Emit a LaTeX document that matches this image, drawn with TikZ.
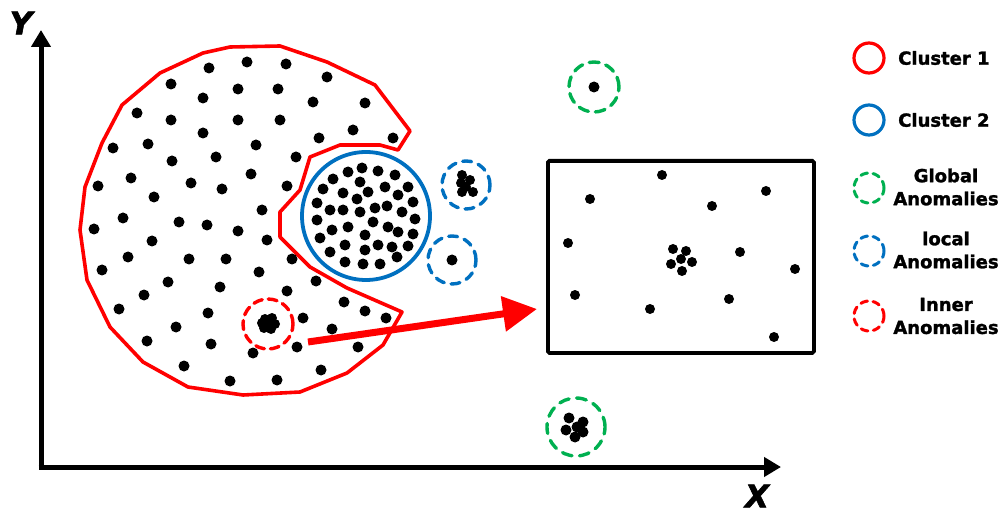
\documentclass[tikz,border=0pt]{standalone}
\usepackage{fontspec}
\setmainfont{DejaVu Sans}
\newfontfamily\heavyfont[FakeBold=1.6]{DejaVu Sans Bold}
\newfontfamily\heavyital[FakeBold=2]{DejaVu Sans Bold Oblique}
\usetikzlibrary{arrows.meta}
\definecolor{cred}{RGB}{255,0,0}
\definecolor{cblue}{RGB}{0,112,192}
\definecolor{cgreen}{RGB}{0,176,80}
\tikzset{
  dotfill/.style={fill=black},
  bigdash/.style={line width=3.4pt,dash pattern=on 11pt off 7pt,line cap=round},
  smalldash/.style={line width=3pt,dash pattern=on 7pt off 5.5pt,line cap=round},
  legtext/.style={inner sep=0pt,font=\fontsize{18}{23}\selectfont\heavyfont,align=center},
  axislabel/.style={inner sep=0pt,font=\fontsize{31}{31}\selectfont\heavyital},
  axis/.style={line width=5pt,-{Triangle[length=17pt,width=19pt]}},
}
\begin{document}
\begin{tikzpicture}[x=1pt,y=-1pt]
\useasboundingbox (0,0) rectangle (1007,513);
% axes
\coordinate (origin) at (41,467);
\coordinate (ytip) at (41,30);
\coordinate (xtip) at (781,467);
\draw[axis] ([yshift=2.5pt]origin) -- (ytip);
\draw[axis] ([xshift=-2.5pt]origin) -- (xtip);
\node[axislabel] (ylab) at (21,23) {Y};
\node[axislabel] (xlab) at (757,496) {X};
% cluster 1 outline
\draw[cred,line width=3.6pt,line join=round]
 (280,46) -- (230,47) -- (203,53) -- (160,73) -- (122,105) -- (102,143) -- (85,187)
 -- (80,230) -- (87,280) -- (110,327) -- (143,362) -- (188,387) -- (243,395)
 -- (300,392) -- (347,373) -- (383,345) -- (402,312) -- (347,288) -- (310,267)
 -- (280,237) -- (280,212) -- (300,190) -- (310,157) -- (340,145) -- (380,145)
 -- (398,150) -- (410,131) -- (375,85) -- (327,62) -- cycle;
% cluster 1 dots
\foreach \p in {(209,68),(247,62),(286,64),(327,77),(171,84),(238,89),(278,89),(203,98),
 (313,102),(365,103),(137,113),(171,120),(238,120),(280,120),(353,130),(203,133),(319,138),
 (393,138),(113,148),(148,144),(256,145),(172,161),(216,157),(296,157),(251,174),(131,178),
 (98,186),(191,183),(222,189),(287,186),(154,197),(262,210),(123,218),(179,222),(207,225),
 (94,229),(238,231),(152,241),(267,240),(128,257),(189,259),(226,259),(292,259),(102,270),
 (259,272),(168,282),(220,287),(316,281),(144,295),(287,291),(344,302),(119,309),(208,313),
 (365,311),(303,318),(386,318),(176,327),(332,329),(147,341),(211,344),(253,353),(297,347),
 (358,347),(184,366),(321,370),(230,381),(277,380)}
 \fill[dotfill] \p circle[radius=5.5];
% inner anomaly
\node[draw=cred,line width=3.4pt,line cap=round,dash pattern=on 9pt off 6pt,circle,minimum size=50pt,inner sep=0pt] (inner) at (268,324) {};
\foreach \p in {(265,319),(272,318),(275,324),(271,329),(264,328),(262,323),(269,323)}
 \fill[dotfill] \p circle[radius=5];
% cluster 2
\node[draw=cblue,line width=3.8pt,circle,minimum size=128pt,inner sep=0pt] (c2) at (366,216) {};
\foreach \p in {(348,172),(362,168),(378,171),(395,175),(333,179),(360,182),(323,189),(368,192),
 (385,187),(408,187),(343,193),(398,195),(357,199),(317,203),(413,202),(387,206),(330,210),
 (343,210),(360,212),(375,208),(402,212),(317,220),(415,219),(373,222),(348,227),(332,230),
 (388,227),(398,232),(365,235),(413,234),(320,238),(345,245),(378,245),(392,247),(408,246),
 (330,252),(365,250),(397,257),(345,262),(363,264),(380,264)}
 \fill[dotfill] \p circle[radius=5.5];
% local anomalies
\node[draw=cblue,bigdash,dash pattern=on 9pt off 7pt,circle,minimum size=48pt,inner sep=0pt] (loc1) at (466,185) {};
\foreach \p in {(462,175),(470,180),(461,183),(466,187),(473,192),(462,192)}
 \fill[dotfill] \p circle[radius=5];
\node[draw=cblue,bigdash,dash pattern=on 9pt off 7pt,circle,minimum size=48pt,inner sep=0pt] (loc2) at (452,260) {};
\fill[dotfill] (loc2) circle[radius=5.5];
% global anomalies
\node[draw=cgreen,bigdash,dash pattern=on 10pt off 7pt,circle,minimum size=50pt,inner sep=0pt] (glob1) at (594,87) {};
\fill[dotfill] (glob1) circle[radius=5.5];
\node[draw=cgreen,bigdash,dash pattern=on 10pt off 7.5pt,circle,minimum size=58pt,inner sep=0pt] (glob2) at (576,427) {};
\foreach \p in {(569,418),(583,422),(566,430),(583,432),(575,437),(577,427)}
 \fill[dotfill] \p circle[radius=5.5];
% zoom box
\node[draw=black,line width=3.8pt,rounded corners=1.5pt,minimum width=266pt,minimum height=192pt,inner sep=0pt,anchor=north west] (box) at (546,159) {};
\foreach \p in {(662,175),(590,199),(712,206),(766,191),(568,243),(740,252),(795,269),(575,295),
 (650,309),(729,299),(774,337),(673,249),(686,251),(681,259),(692,262),(671,264),(682,271)}
 \fill[dotfill] \p circle[radius=5];
% red arrow
\coordinate (arrstart) at (308,342);
\coordinate (arrtip) at (537,309);
\draw[cred,line width=7pt,-{Triangle[length=34pt,width=34pt]}] (arrstart) -- (arrtip);
% legend
\node[draw=cred,line width=3.2pt,circle,minimum size=30pt,inner sep=0pt] (l1) at (869,58) {};
\node[legtext,anchor=west] (t1) at (898,58) {Cluster 1};
\node[draw=cblue,line width=3.2pt,circle,minimum size=30pt,inner sep=0pt] (l2) at (869,120) {};
\node[legtext,anchor=west] (t2) at (898,120) {Cluster 2};
\node[draw=cgreen,smalldash,circle,minimum size=30pt,inner sep=0pt] (l3) at (869,188) {};
\node[legtext] (t3) at (946,187) {Global\\Anomalies};
\node[draw=cblue,smalldash,circle,minimum size=30pt,inner sep=0pt] (l4) at (869,251) {};
\node[legtext] (t4) at (946,250) {local\\Anomalies};
\node[draw=cred,smalldash,circle,minimum size=30pt,inner sep=0pt] (l5) at (869,316) {};
\node[legtext] (t5) at (946,316) {Inner\\Anomalies};
\end{tikzpicture}
\end{document}
